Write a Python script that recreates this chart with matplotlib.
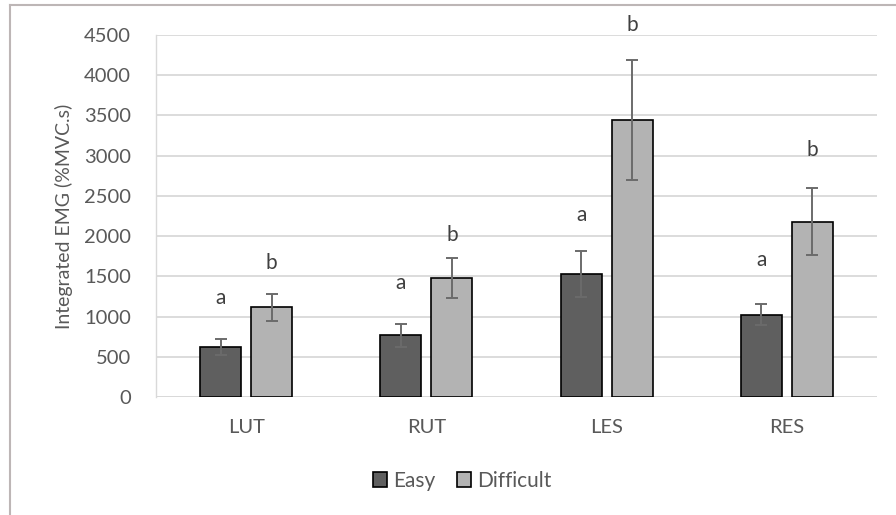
import matplotlib
matplotlib.use("Agg")
import matplotlib.pyplot as plt
from matplotlib.patches import Patch
from matplotlib.lines import Line2D
import numpy as np

# Muscle groups and integrated EMG (%MVC.s)
muscles = ["LUT", "RUT", "LES", "RES"]
easy_mean = [618, 767, 1529, 1023]
easy_err = [97, 140, 285, 130]
difficult_mean = [1115, 1475, 3440, 2179]
difficult_err = [165, 250, 748, 420]

# Significance letters and their heights
easy_letters = ["a", "a", "a", "a"]
easy_letter_y = [1230, 1421, 2263, 1703]
difficult_letters = ["b", "b", "b", "b"]
difficult_letter_y = [1666, 2010, 4625, 3070]

yticks = [0, 500, 1000, 1500, 2000, 2500, 3000, 3500, 4000, 4500]

plt.rcParams["font.family"] = ["Lato", "DejaVu Sans"]
text_color = "#595959"

fig = plt.figure(figsize=(8.96, 5.15), dpi=100)
ax = fig.add_axes([156 / 896, 1 - 397 / 515, (877 - 156) / 896, (397 - 35) / 515])

x = np.arange(len(muscles))
width = 0.228
offset = 0.1415

err_kw = dict(ecolor="#6b6b6b", elinewidth=1.4, capsize=4.5, capthick=1.4)
ax.bar(x - offset, easy_mean, width, yerr=easy_err, color="#5f5f5f",
       edgecolor="black", linewidth=1.2, error_kw=err_kw, zorder=3, label="Easy")
ax.bar(x + offset, difficult_mean, width, yerr=difficult_err, color="#b3b3b3",
       edgecolor="black", linewidth=1.2, error_kw=err_kw, zorder=3, label="Difficult")

for i in range(len(muscles)):
    ax.text(x[i] - offset, easy_letter_y[i], easy_letters[i], ha="center", va="center",
            fontsize=15, color="#404040", clip_on=False)
    ax.text(x[i] + offset, difficult_letter_y[i], difficult_letters[i], ha="center",
            va="center", fontsize=15, color="#404040", clip_on=False)

ax.set_xlim(-0.5, len(muscles) - 0.5)
ax.set_ylim(0, 4500)
ax.set_yticks(yticks)
ax.set_xticks(x)
ax.set_xticklabels(muscles)
ax.tick_params(axis="both", length=0, labelsize=14.5, colors=text_color)
ax.tick_params(axis="y", pad=18)
ax.tick_params(axis="x", pad=16)
ax.yaxis.grid(True, color="#d9d9d9", linewidth=1.3, zorder=0)
ax.set_axisbelow(True)
for s in ["top", "right", "bottom"]:
    ax.spines[s].set_visible(False)
ax.spines["left"].set_color("#d9d9d9")
ax.spines["left"].set_linewidth(1.0)
ax.axhline(0, color="#d9d9d9", linewidth=1.3, zorder=1)

ax.set_ylabel("Integrated EMG (%MVC.s)", fontsize=14, color=text_color, labelpad=8)

handles = [Patch(facecolor="#5f5f5f", edgecolor="black", linewidth=1.2, label="Easy"),
           Patch(facecolor="#b3b3b3", edgecolor="black", linewidth=1.2, label="Difficult")]
leg = fig.legend(handles=handles, loc="center", bbox_to_anchor=(0.516, 1 - 481 / 515),
                 ncol=2, frameon=False, fontsize=15, handlelength=0.7, handleheight=0.7,
                 handletextpad=0.3, columnspacing=1.0)
for t in leg.get_texts():
    t.set_color(text_color)

# Chart-area border along the top and left edges
frame_color = "#bdb6b6"
fig.add_artist(Line2D([10 / 896, 1.0], [1 - 5 / 515, 1 - 5 / 515], transform=fig.transFigure,
                      color=frame_color, linewidth=1.5))
fig.add_artist(Line2D([10 / 896, 10 / 896], [0.0, 1 - 5 / 515], transform=fig.transFigure,
                      color=frame_color, linewidth=1.5))

fig.savefig("out.png", dpi=100)
